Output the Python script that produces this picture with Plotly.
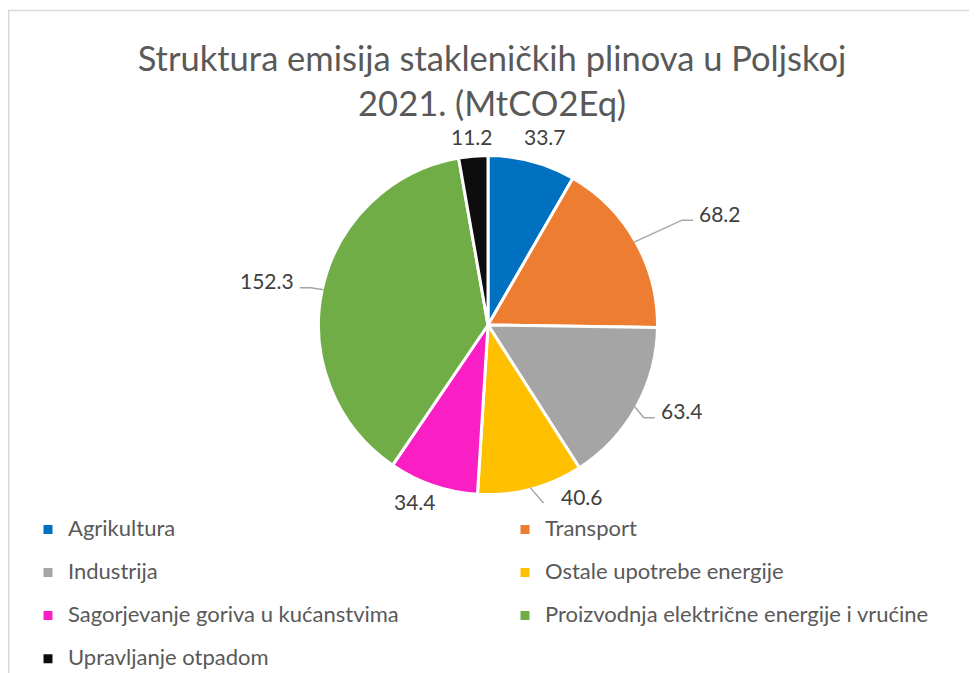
import math
import plotly.graph_objects as go

W, H = 977, 673
PAGE_PAD = 8  # body margin of the html page

labels = ['Agrikultura', 'Transport', 'Industrija', 'Ostale upotrebe energije',
          'Sagorjevanje goriva u kućanstvima', 'Proizvodnja električne energije i vrućine',
          'Upravljanje otpadom']
values = [33.7, 68.2, 63.4, 40.6, 34.4, 152.3, 11.2]
colors = ['#0070C0', '#ED7D31', '#A5A5A5', '#FFC000', '#F91FC4', '#70AD47', '#0D0D0D']

# label placement (pixel offset from slice edge), anchor side, leader line
label_off = [(13, -26), (63, -29), (24, 4), (29, 9), (-19, 18), (-28, -9), (-1, -21)]
label_anchor = ['center', 'left', 'left', 'left', 'center', 'right', 'center']
has_leader = [False, True, True, True, False, True, False]

FONT = 'Lato'


def px(x, y):
    # page pixel -> paper coords
    return (x - PAGE_PAD) / W, 1 - (y - PAGE_PAD) / H


# pie geometry in page pixels
cx, cy, R = 488, 325, 168
R_dom = R + 1.5
dx0, dy0 = px(cx - R_dom, cy + R_dom)
dx1, dy1 = px(cx + R_dom, cy - R_dom)

# legend rows are spaced by the (larger) legend font; the visible text is smaller
legend_labels = [f"<span style='font-size:22px;baseline-shift:6px'>{l}</span>" for l in labels]

fig = go.Figure(go.Pie(
    labels=legend_labels, values=values, sort=False, direction='clockwise', rotation=0,
    marker=dict(colors=colors, line=dict(color='white', width=3)),
    textinfo='none', domain=dict(x=[dx0, dx1], y=[dy0, dy1]),
    customdata=labels,
    hovertemplate='%{customdata}: %{value}<extra></extra>',
))

total = sum(values)
cum = 0
annotations = []
shapes = []
for i, v in enumerate(values):
    mid = (cum + v / 2) / total * 2 * math.pi
    cum += v
    ex, ey = cx + R * math.sin(mid), cy - R * math.cos(mid)
    ax, ay = ex + label_off[i][0], ey + label_off[i][1]
    x, y = px(ax, ay)
    annotations.append(dict(
        x=x, y=y, xref='paper', yref='paper', text=f'{v:.1f}', showarrow=False,
        xanchor=label_anchor[i], yanchor='middle',
        font=dict(family=FONT, size=21, color='#404040'),
    ))
    if has_leader[i]:
        sgn = 1 if label_anchor[i] == 'left' else -1
        endx, endy = ax - 4 * sgn, ay + 7
        elx = endx - 11 * sgn
        pts = [px(ex, ey), px(elx, endy), px(endx, endy)]
        path = 'M {} {} L {} {} L {} {}'.format(*[c for p in pts for c in p])
        shapes.append(dict(type='path', path=path, xref='paper', yref='paper',
                           line=dict(color='#A6A6A6', width=1.5)))

# chart area border (cropped at right and bottom)
bx0, by0 = px(8.75, 10.5)
bx1, by1 = px(W + 40, H + 40)
shapes.append(dict(type='rect', xref='paper', yref='paper', x0=bx0, y0=by1, x1=bx1, y1=by0,
                   line=dict(color='#D9D9D9', width=1.5)))

lx, ly = px(28, 503)
tx, ty = px(492, 71)
fig.update_layout(
    width=W, height=H,
    margin=dict(l=0, r=0, t=0, b=0, autoexpand=False),
    paper_bgcolor='white',
    title=dict(text='Struktura emisija stakleničkih plinova u Poljskoj<br>2021. (MtCO2Eq)',
               x=tx, xanchor='center', y=ty, yanchor='top',
               font=dict(family=FONT, size=34.5, color='#595959')),
    legend=dict(orientation='h', x=lx, y=ly, xanchor='left', yanchor='top',
                entrywidth=432, entrywidthmode='pixels',
                font=dict(family=FONT, size=30.8, color='#595959')),
    annotations=annotations,
    shapes=shapes,
)

fig.write_html('out.html')
